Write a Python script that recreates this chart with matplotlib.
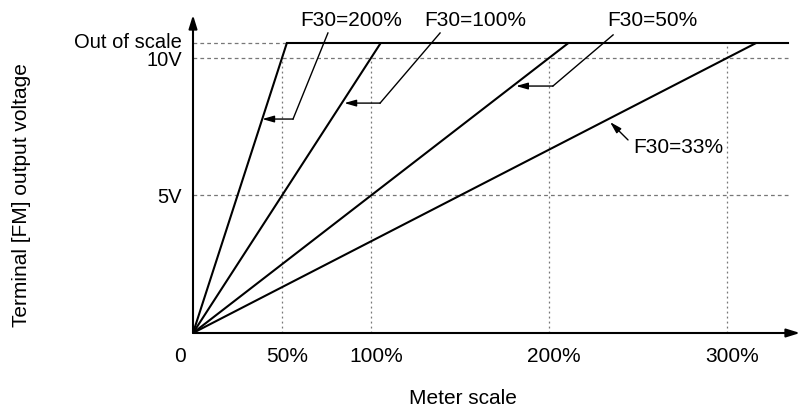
import matplotlib.pyplot as plt
from matplotlib.transforms import ScaledTranslation

plt.rcParams['font.family'] = ['Liberation Sans', 'DejaVu Sans']

# meter reading (%) that gives 10V for each F30 setting
f30_labels = ["F30=200%", "F30=100%", "F30=50%", "F30=33%"]
full_scale = [50, 100, 200, 300]
out_of_scale = 10.55   # volts, level where output saturates
top_end = 334          # end of the saturation line (%)

x_ticks = [0, 50, 100, 200, 300]
x_tick_labels = ["0", "50%", "100%", "200%", "300%"]
y_ticks = [5, 10, out_of_scale]
y_tick_labels = ["5V", "10V", "Out of scale"]

W, H = 802, 411
fig = plt.figure(figsize=(W / 100, H / 100), dpi=100)
# origin at px (193, 333), axes up to px (800, 15)
ax = fig.add_axes([193 / W, (H - 333) / H, (800 - 193) / W, (333 - 15) / H])
xmax = (800 - 193) / 1.78
ymax = (333 - 15) / 27.5
ax.set_xlim(0, xmax)
ax.set_ylim(0, ymax)
for s in ax.spines.values():
    s.set_visible(False)

# grid lines
grid_kw = dict(color='#777777', lw=0.9, ls=(0, (3, 2.5)))
ax.plot([0, 335], [10, 10], **grid_kw)
ax.plot([0, 335], [5, 5], **grid_kw)
ax.plot([0, full_scale[0] * out_of_scale / 10], [out_of_scale] * 2, **grid_kw)
for v in full_scale[:-1]:
    ax.plot([v, v], [0, 10], color='#777777', lw=0.9, ls=(0, (1.5, 2.5)))
ax.plot([full_scale[-1]] * 2, [0, out_of_scale], color='#777777', lw=0.9, ls=(0, (1.5, 2.5)))

# output lines
for fs in full_scale:
    x_end = fs * out_of_scale / 10
    ax.plot([0, x_end], [0, out_of_scale], color='black', lw=1.5, solid_capstyle='butt')
ax.plot([full_scale[0] * out_of_scale / 10, top_end], [out_of_scale] * 2, color='black', lw=1.5)

# axes with arrows
arrow_kw = dict(arrowstyle='-|>,head_length=0.8,head_width=0.25', color='black', lw=1.5,
                shrinkA=0, shrinkB=0)
ax.annotate('', xy=(xmax, 0), xytext=(0, 0), arrowprops=arrow_kw, annotation_clip=False)
ax.annotate('', xy=(0, ymax), xytext=(0, 0), arrowprops=arrow_kw, annotation_clip=False)

ax.set_xticks(x_ticks, x_tick_labels, fontsize=15)
ax.set_yticks(y_ticks, y_tick_labels, fontsize=14.5)
ax.tick_params(axis='x', length=0, pad=10)
ax.tick_params(axis='y', length=0, pad=8)
xlabels = ax.get_xticklabels()
xlabels[0].set_transform(xlabels[0].get_transform() + ScaledTranslation(-0.13, 0, fig.dpi_scale_trans))
for lbl in xlabels[1:]:
    lbl.set_transform(lbl.get_transform() + ScaledTranslation(0.05, 0, fig.dpi_scale_trans))
ylabels = ax.get_yticklabels()
ylabels[2].set_transform(ylabels[2].get_transform() + ScaledTranslation(0, 0.02, fig.dpi_scale_trans))

# leader lines and labels
text_pos = [(88.8, 11.38), (158.4, 11.38), (257.9, 11.38), (272.5, 6.73)]
leaders = [
    [(75.8, 10.91), (56.2, 7.78), (38.9, 7.78)],
    [(138.8, 10.91), (105.1, 8.36), (85.0, 8.36)],
    [(236.0, 10.84), (202.2, 8.98), (181.5, 8.98)],
    [(244.4, 7.02), (234.3, 7.67)],
]
lead_arrow = dict(arrowstyle='-|>,head_length=0.7,head_width=0.2', color='black', lw=1.0,
                  shrinkA=0, shrinkB=0)
for lab, tp, pts in zip(f30_labels, text_pos, leaders):
    ax.text(tp[0], tp[1], lab, fontsize=15, ha='center', va='center')
    if len(pts) > 2:
        ax.plot([p[0] for p in pts[:-1]], [p[1] for p in pts[:-1]], color='black', lw=1.0)
    ax.annotate('', xy=pts[-1], xytext=pts[-2], arrowprops=lead_arrow)

fig.text(22 / W, 1 - 195 / H, "Terminal [FM] output voltage", rotation=90,
         fontsize=15, ha='center', va='center')
fig.text(463 / W, 1 - 398 / H, "Meter scale", fontsize=15, ha='center', va='center')

fig.savefig('out.png', dpi=100, facecolor='white')
